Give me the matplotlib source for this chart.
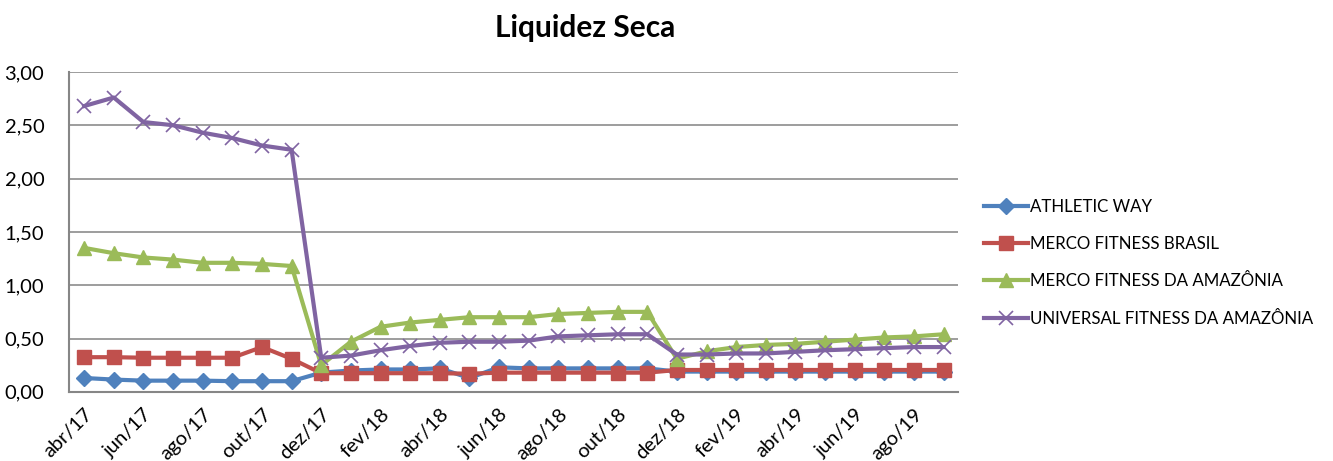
import matplotlib
matplotlib.use("Agg")
import matplotlib.pyplot as plt
import numpy as np

plt.rcParams["font.family"] = ["Lato", "DejaVu Sans"]

# months abr/17 .. set/19
months = ["abr/17", "mai/17", "jun/17", "jul/17", "ago/17", "set/17", "out/17", "nov/17",
          "dez/17", "jan/18", "fev/18", "mar/18", "abr/18", "mai/18", "jun/18", "jul/18",
          "ago/18", "set/18", "out/18", "nov/18", "dez/18", "jan/19", "fev/19", "mar/19",
          "abr/19", "mai/19", "jun/19", "jul/19", "ago/19", "set/19"]

athletic_way = [0.13, 0.115, 0.105, 0.105, 0.105, 0.10, 0.10, 0.10,
                0.18, 0.20, 0.21, 0.21, 0.22, 0.13, 0.23, 0.22,
                0.22, 0.22, 0.22, 0.22, 0.19, 0.19, 0.19, 0.19,
                0.19, 0.19, 0.19, 0.19, 0.19, 0.19]
merco_brasil = [0.325, 0.325, 0.32, 0.32, 0.32, 0.32, 0.42, 0.31,
                0.175, 0.175, 0.175, 0.175, 0.175, 0.17, 0.18, 0.18,
                0.18, 0.18, 0.18, 0.18, 0.205, 0.205, 0.205, 0.205,
                0.205, 0.205, 0.205, 0.205, 0.205, 0.205]
merco_amazonia = [1.35, 1.30, 1.26, 1.24, 1.21, 1.21, 1.20, 1.18,
                  0.25, 0.47, 0.61, 0.65, 0.675, 0.70, 0.70, 0.70,
                  0.73, 0.74, 0.75, 0.75, 0.31, 0.38, 0.42, 0.44,
                  0.45, 0.47, 0.49, 0.51, 0.52, 0.54]
universal_amazonia = [2.68, 2.76, 2.53, 2.50, 2.43, 2.38, 2.31, 2.27,
                      0.32, 0.34, 0.39, 0.43, 0.46, 0.47, 0.47, 0.48,
                      0.52, 0.53, 0.54, 0.54, 0.35, 0.35, 0.36, 0.36,
                      0.375, 0.39, 0.40, 0.41, 0.42, 0.42]

series = [
    ("ATHLETIC WAY", athletic_way, "#4F81BD", "D", 8),
    ("MERCO FITNESS BRASIL", merco_brasil, "#C0504D", "s", 10),
    ("MERCO FITNESS DA AMAZÔNIA", merco_amazonia, "#9BBB59", "^", 10),
    ("UNIVERSAL FITNESS DA AMAZÔNIA", universal_amazonia, "#8064A2", "x", 10),
]

fig = plt.figure(figsize=(13.33, 4.61), dpi=100)
ax = fig.add_axes([0.052, 0.150, 0.667, 0.694])

x = np.arange(len(months))
for name, vals, color, mk, ms in series:
    kw = dict(markeredgewidth=1.2) if mk == "x" else dict(markeredgecolor=color)
    ax.plot(x, vals, color=color, lw=3, marker=mk, markersize=ms,
            label=name, **kw)

ax.set_xlim(-0.5, len(months) - 0.5)
ax.set_ylim(0, 3.0)
yt = np.arange(0, 3.01, 0.5)
ax.set_yticks(yt)
ax.set_yticklabels([f"{v:.2f}".replace(".", ",") for v in yt], fontsize=14.5)
ax.yaxis.grid(True, color="#8c8c8c", lw=1.2)
ax.set_axisbelow(True)
ax.set_xticks(x[::2])
ax.set_xticklabels(months[::2], rotation=45, ha="right", rotation_mode="anchor",
                   fontsize=14.5)
ax.tick_params(axis="y", length=0, pad=18)
ax.tick_params(axis="x", length=0, pad=10)
for s in ["top", "right"]:
    ax.spines[s].set_visible(False)
for s in ["left", "bottom"]:
    ax.spines[s].set_color("#868686")
    ax.spines[s].set_linewidth(1.5)

fig.text(0.439, 0.94, "Liquidez Seca", ha="center", va="center",
         fontsize=21.5, fontweight="bold")

fig.legend(loc="center left", bbox_to_anchor=(0.727, 0.43), frameon=False,
           fontsize=12.2, handlelength=2.6, handletextpad=0.1, labelspacing=1.25)

fig.savefig("out.png", dpi=100)
